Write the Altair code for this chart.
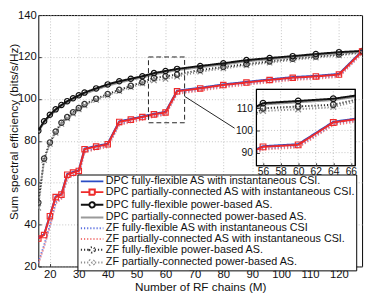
import altair as alt
import pandas as pd

# ---------------- data ----------------
M = [16, 18, 20, 22, 24, 26, 28, 30, 32, 36, 40, 44, 48, 52, 56, 60, 64,
     72, 80, 88, 96, 104, 112, 120, 128]

DPC_FF_INST = [33.6, 35.3, 44.3, 53.4, 54.6, 64.1, 65.1, 65.9, 76.3, 77.5, 78.6, 89.3, 90.4,
               91.6, 92.9, 93.8, 103.9, 105.3, 106.9, 108.1, 109.3, 110.4, 111.0, 111.9, 122.9]
DPC_PC_INST = [33.3, 35.0, 44.0, 53.1, 54.3, 63.8, 64.8, 65.6, 76.0, 77.2, 78.3, 89.0, 90.1,
               91.3, 92.6, 93.5, 103.6, 105.0, 106.6, 107.8, 109.0, 110.1, 110.7, 111.6, 122.6]
DPC_FF_POWER = [84.8, 89.3, 92.4, 95.0, 97.1, 98.9, 100.3, 101.7, 103.0, 105.0, 106.9, 108.4, 109.6,
                110.8, 112.3, 113.3, 114.3, 115.7, 117.0, 118.5, 119.5, 120.4, 121.4, 122.3, 122.9]
DPC_PC_POWER = [84.3, 88.7, 91.8, 94.4, 96.5, 98.3, 99.7, 101.1, 102.4, 104.4, 106.3, 107.8, 109.0,
                110.2, 111.7, 112.7, 113.7, 115.1, 116.4, 117.9, 118.9, 119.9, 120.9, 121.8, 122.5]
ZF_FF_INST = [22.0, 30.0, 39.5, 50.5, 52.8, 62.2, 63.7, 64.6, 74.8, 76.3, 77.4, 88.0, 89.2,
              90.4, 91.8, 92.7, 102.8, 104.3, 105.9, 107.1, 108.3, 109.4, 110.0, 110.9, 122.0]
ZF_PC_INST = [21.5, 29.5, 39.0, 50.0, 52.3, 61.8, 63.3, 64.2, 74.4, 75.9, 77.0, 87.6, 88.8,
              90.0, 91.4, 92.3, 102.4, 103.9, 105.5, 106.7, 107.9, 109.0, 109.6, 110.5, 121.6]
ZF_FF_POWER = [50.5, 71.5, 79.2, 84.4, 88.6, 91.3, 93.6, 95.6, 97.5, 100.1, 102.3, 104.3, 106.2,
               108.0, 110.0, 110.8, 111.6, 113.8, 115.2, 116.6, 117.9, 119.2, 120.2, 121.2, 122.4]
ZF_PC_POWER = [48.0, 70.8, 78.5, 83.8, 88.0, 90.7, 93.0, 95.0, 96.9, 99.5, 101.7, 103.7, 105.6,
               107.4, 108.8, 109.5, 110.6, 113.0, 114.5, 116.0, 117.3, 118.6, 119.7, 120.7, 122.0]

SERIES = [
    "DPC fully-flexible AS with instantaneous CSI.",
    "DPC partially-connected AS with instantaneous CSI.",
    "DPC fully-flexible power-based AS.",
    "DPC partially-connected power-based AS.",
    "ZF fully-flexible AS with instantaneous CSI",
    "ZF partially-connected AS with instantaneous CSI.",
    "ZF fully-flexible power-based AS.",
    "ZF partially-connected power-based AS.",
]
VALUES = [DPC_FF_INST, DPC_PC_INST, DPC_FF_POWER, DPC_PC_POWER,
          ZF_FF_INST, ZF_PC_INST, ZF_FF_POWER, ZF_PC_POWER]

X_DOMAIN = [16, 128]
Y_DOMAIN = [20, 140]
X_TICKS = [20, 30, 40, 50, 60, 70, 80, 90, 100, 110, 120]
Y_TICKS = [20, 40, 60, 80, 100, 120, 140]

INSET_X_DOMAIN = [55.25, 66.5]
INSET_Y_DOMAIN = [84.1, 118.5]
INSET_X_TICKS = [56, 58, 60, 62, 64, 66]
INSET_Y_TICKS = [90, 100, 110]
INSET_LINE_SPAN = [52, 72]

ZOOM_BOX = {"x0": [54.1], "x1": [66.6], "y0": [88.6], "y1": [120.0]}
CONNECTOR = {"x0": [66.6], "y0": [101.2], "x1": [83.9], "y1": [86.0]}

rows = [{"M": m, "value": v, "series": s}
        for s, vals in zip(SERIES, VALUES) for m, v in zip(M, vals)]
df = pd.DataFrame(rows)

# ---------------- styles ----------------
COLORS = ["#2b4cc4", "#ee2b2b", "#111111", "#9a9a9a",
          "#5a6fe0", "#f27a7a", "#333333", "#8f8f8f"]
DASHES = [[1, 0], [1, 0], [1, 0], [1, 0], [1.2, 2], [1.2, 2], [1.2, 2], [1.2, 2]]
WIDTHS = [2, 2, 2, 2, 1.2, 1.2, 1.2, 1.2]

X_PATH = "M-1,-1L1,1M-1,1L1,-1"
LINE_P = "M-2.3,0H2.3"
SQ_P = "M-2.3,0H-0.55M0.55,0H2.3M-0.55,-0.55H0.55V0.55H-0.55Z"
CI_P = "M-2.3,0H-0.55M0.55,0H2.3M-0.55,0A0.55,0.55 0 1,0 0.55,0A0.55,0.55 0 1,0 -0.55,0"
XX_P = "M-2.3,0H-0.6M0.6,0H2.3M-0.6,-0.6L0.6,0.6M-0.6,0.6L0.6,-0.6"
LEGEND_SHAPES = [LINE_P, SQ_P, CI_P, LINE_P, LINE_P, LINE_P, CI_P, XX_P]

MARKERS = [(SERIES[7], X_PATH), (SERIES[6], "circle"), (SERIES[2], "circle"), (SERIES[1], "square")]
DRAW_ORDER = [SERIES[i] for i in (4, 5, 7, 6, 3, 2, 0, 1)]

FONT = "Liberation Sans"

color_scale = alt.Scale(domain=SERIES, range=COLORS)
dash_scale = alt.Scale(domain=SERIES, range=DASHES)
width_scale = alt.Scale(domain=SERIES, range=WIDTHS)
shape_scale = alt.Scale(domain=SERIES, range=LEGEND_SHAPES)

LEG = alt.Legend(title=None)
COLOR = alt.Color("series:N", scale=color_scale, legend=LEG)
DASH = alt.StrokeDash("series:N", scale=dash_scale, legend=LEG)
SW = alt.StrokeWidth("series:N", scale=width_scale, legend=LEG)
SHAPE = alt.Shape("series:N", scale=shape_scale, legend=LEG)

# ---------------- main panel ----------------
mx_scale = alt.Scale(domain=X_DOMAIN, nice=False, zero=False)
my_scale = alt.Scale(domain=Y_DOMAIN, nice=False, zero=False)

main_x_axis = alt.Axis(values=X_TICKS, title="Number of RF chains (M)", grid=True,
                       domain=False, tickSize=3, offset=-3, labelPadding=2,
                       labelFlush=False, titlePadding=2)
main_y_axis = alt.Axis(values=Y_TICKS, title="Sum spectral efficiency (bits/s/Hz)",
                       grid=True, domain=False, tickSize=3, offset=-3, labelPadding=2,
                       labelFlush=False, titleAngle=270, titleBaseline="top",
                       titleAlign="center", titleX=-33.5, titleY=119)


def mx(field):
    return alt.X(field, type="quantitative", scale=mx_scale, axis=main_x_axis)


def my(field):
    return alt.Y(field, type="quantitative", scale=my_scale, axis=main_y_axis)


main_layers = []
for s in DRAW_ORDER:
    main_layers.append(
        alt.Chart(df).transform_filter(alt.datum.series == s)
        .mark_line(clip=True)
        .encode(x=mx("M"), y=my("value"), color=COLOR, strokeDash=DASH, strokeWidth=SW)
    )
for s, shp in MARKERS:
    main_layers.append(
        alt.Chart(df).transform_filter(alt.datum.series == s)
        .mark_point(shape=shp, filled=False, size=30, strokeWidth=1.2, opacity=1, clip=True)
        .encode(x=mx("M"), y=my("value"), color=COLOR)
    )

zoom_box = alt.Chart(pd.DataFrame(ZOOM_BOX)).mark_rect(
    fill="transparent", stroke="#222222", strokeDash=[5, 3], strokeWidth=1
).encode(x=mx("x0"), x2="x1:Q", y=my("y0"), y2="y1:Q")
connector = alt.Chart(pd.DataFrame(CONNECTOR)).mark_rule(color="#222222", strokeWidth=1).encode(
    x=mx("x0"), x2="x1:Q", y=my("y0"), y2="y1:Q")

legend_layer = alt.Chart(df).transform_filter("false").mark_point(filled=False, opacity=1).encode(
    color=COLOR, shape=SHAPE, strokeDash=DASH, strokeWidth=SW)

main_group = alt.layer(*main_layers, zoom_box, connector, legend_layer)

# ---------------- inset ----------------
INSET_X_RANGE = [223, 324]
INSET_Y_RANGE = [154, 76]
ix_scale = alt.Scale(domain=INSET_X_DOMAIN, range=INSET_X_RANGE, nice=False, zero=False, clamp=True)
iy_scale = alt.Scale(domain=INSET_Y_DOMAIN, range=INSET_Y_RANGE, nice=False, zero=False, clamp=True)

inset_x_axis = alt.Axis(values=INSET_X_TICKS, orient="bottom", offset=-106, tickSize=3,
                        domain=False, grid=False, labelPadding=1, labelFlush=False,
                        title=None, zindex=1, labelFontSize=10.5)
inset_y_axis = alt.Axis(values=INSET_Y_TICKS, orient="left", offset=-226, tickSize=3,
                        domain=False, grid=False, labelPadding=4, labelFlush=False,
                        title=None, zindex=1, labelFontSize=10.5)


def ix(field):
    return alt.X(field, type="quantitative", scale=ix_scale, axis=inset_x_axis)


def iy(field):
    return alt.Y(field, type="quantitative", scale=iy_scale, axis=inset_y_axis)


box_df = pd.DataFrame({"x0": [INSET_X_DOMAIN[0]], "x1": [INSET_X_DOMAIN[1]],
                       "y0": [INSET_Y_DOMAIN[0]], "y1": [INSET_Y_DOMAIN[1]]})
inset_bg = alt.Chart(box_df).mark_rect(fill="white", stroke="black", strokeWidth=1).encode(
    x=ix("x0"), x2="x1:Q", y=iy("y0"), y2="y1:Q")
vgrid = alt.Chart(pd.DataFrame({"x": INSET_X_TICKS, "y0": INSET_Y_DOMAIN[0], "y1": INSET_Y_DOMAIN[1]})
                  ).mark_rule(color="#b5b5b5", strokeDash=[1, 2], strokeWidth=0.8).encode(
    x=ix("x"), y=iy("y0"), y2="y1:Q")
hgrid = alt.Chart(pd.DataFrame({"y": INSET_Y_TICKS, "x0": INSET_X_DOMAIN[0], "x1": INSET_X_DOMAIN[1]})
                  ).mark_rule(color="#b5b5b5", strokeDash=[1, 2], strokeWidth=0.8).encode(
    y=iy("y"), x=ix("x0"), x2="x1:Q")

inset_layers = [inset_bg, vgrid, hgrid]
for s in DRAW_ORDER:
    inset_layers.append(
        alt.Chart(df).transform_filter(
            (alt.datum.series == s) & (alt.datum.M >= INSET_LINE_SPAN[0]) & (alt.datum.M <= INSET_LINE_SPAN[1]))
        .mark_line()
        .encode(x=ix("M"), y=iy("value"), color=COLOR, strokeDash=DASH, strokeWidth=SW)
    )
for s, shp in MARKERS:
    inset_layers.append(
        alt.Chart(df).transform_filter(
            (alt.datum.series == s) & (alt.datum.M >= INSET_X_DOMAIN[0]) & (alt.datum.M <= INSET_X_DOMAIN[1]))
        .mark_point(shape=shp, filled=False, size=34, strokeWidth=1.2, opacity=1)
        .encode(x=ix("M"), y=iy("value"), color=COLOR)
    )
inset_frame = alt.Chart(box_df).mark_rect(fill="transparent", stroke="black", strokeWidth=1.2).encode(
    x=ix("x0"), x2="x1:Q", y=iy("y0"), y2="y1:Q")
inset_layers.append(inset_frame)
inset_group = alt.layer(*inset_layers)

chart = (
    alt.layer(main_group, inset_group)
    .resolve_scale(x="independent", y="independent")
    .properties(width=331, height=257, autosize=alt.AutoSizeParams(type="none"),
                padding={"left": 31, "top": 4, "right": 4, "bottom": 29})
    .configure(font=FONT)
    .configure_view(stroke="black", strokeWidth=1)
    .configure_axis(labelFont=FONT, titleFont=FONT, labelFontSize=11.5, titleFontSize=12,
                    labelColor="#111111", titleColor="#111111", tickColor="#333333",
                    gridColor="#b5b5b5", gridDash=[1, 2], gridWidth=0.8, titleFontWeight="normal")
    .configure_legend(orient="none", legendX=40, legendY=163, fillColor="white",
                      strokeColor="black", padding=1, labelFont=FONT, labelFontSize=11,
                      labelColor="#111111", symbolSize=100, symbolOffset=8,
                      labelOffset=alt.ExprRef(expr="8"),
                      rowPadding=alt.ExprRef(expr="-2.5"), labelLimit=400)
)

chart.save("out.html", embed_options={"renderer": "svg", "actions": False})
